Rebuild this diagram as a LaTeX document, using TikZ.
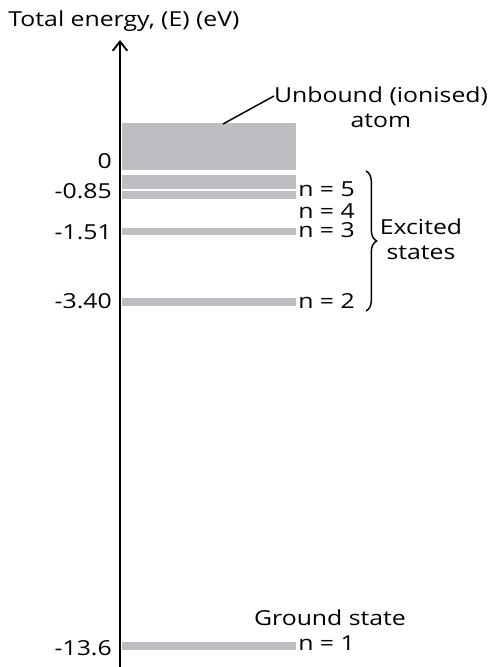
\documentclass[tikz,border=0pt]{standalone}
\usepackage{fontspec}
\setmainfont{Open Sans}[FakeStretch=1.2]
\usetikzlibrary{arrows.meta,decorations.pathreplacing}
\definecolor{bargray}{RGB}{190,190,194}
\begin{document}
\begin{tikzpicture}[x=0.75pt,y=-0.75pt,
  txt/.style={font=\fontsize{15.5}{19}\selectfont, inner sep=0pt},
  bar/.style={fill=bargray, draw=none},
  lvl/.style={txt, anchor=east},
  nlab/.style={txt, anchor=west}]
\useasboundingbox (0,0) rectangle (490,667);
% bars
\fill[bar] (122,123) rectangle (296,170);
\fill[bar] (122,175) rectangle (296,188.5);
\fill[bar] (122,191) rectangle (296,198.5);
\fill[bar] (122,228) rectangle (296,235);
\fill[bar] (122,298) rectangle (296,306);
\fill[bar] (122,641.5) rectangle (296,649.5);
% axis
\coordinate (axb) at (120,667);
\coordinate (axt) at (120,40);
\draw[line width=1.6pt, -{Straight Barb[length=7pt,width=11pt,line width=1.4pt]}] (axb) -- (axt);
\node[txt] (title) at (124,21) {Total energy, (E) (eV)};
% level values
\node[lvl] (v0) at (112,161) {0};
\node[lvl] (v5) at (112,191) {-0.85};
\node[lvl] (v3) at (112,232) {-1.51};
\node[lvl] (v2) at (112,301) {-3.40};
\node[lvl] (v1) at (112,648) {-13.6};
% n labels
\node[nlab] (n5) at (298,189) {n = 5};
\node[nlab] (n4) at (298,211) {n = 4};
\node[nlab] (n3) at (298,230) {n = 3};
\node[nlab] (n2) at (298,301) {n = 2};
\node[nlab] (n1) at (298,643) {n = 1};
% brace
\coordinate (bt) at (366,171);
\coordinate (bb) at (366,311);
\draw[line width=1.1pt, decorate, decoration={brace, amplitude=8pt}] (bt) -- (bb);
\node[txt, align=center] (exc) at (421,239) {Excited\\states};
% unbound
\node[txt, align=center] (unb) at (381,107) {Unbound (ionised)\\atom};
\coordinate (up) at (223,124);
\draw[line width=1.1pt] (up) -- (274,96);
\node[txt] (gs) at (330,618) {Ground state};
\end{tikzpicture}
\end{document}
